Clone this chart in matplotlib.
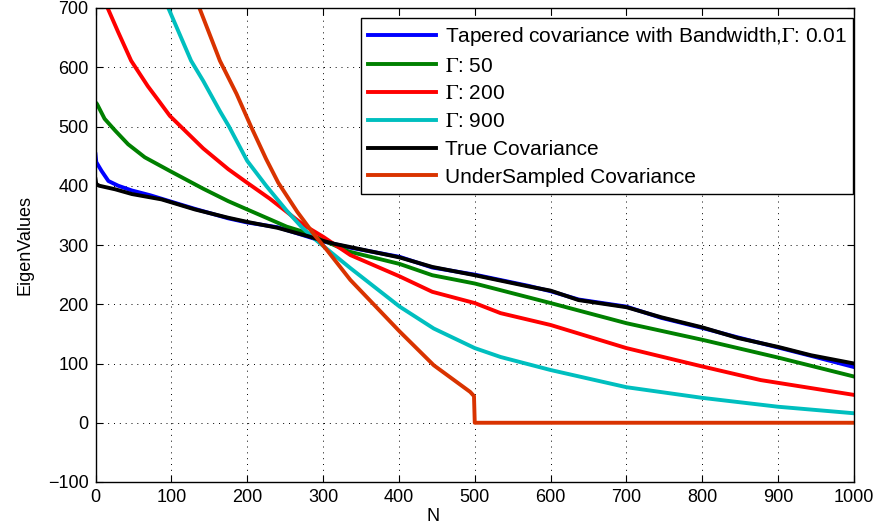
import matplotlib
matplotlib.use("Agg")
import matplotlib.pyplot as plt

plt.rcParams['font.family'] = ['Liberation Sans', 'DejaVu Sans']
plt.rcParams['mathtext.fontset'] = 'stix'

# eigenvalue curves (index N, value)
n_true = [0, 1, 5, 26, 48, 87, 100, 131, 175, 200, 240, 280, 300, 315, 334, 401, 444, 500, 571, 600, 637, 700, 746, 800, 847, 900, 943, 1000]
v_true = [411, 403, 400, 394, 386, 377, 372, 360, 346, 339, 329, 315, 307, 302, 297, 279, 263, 249, 230, 223, 207, 195, 178, 161, 143, 128, 114, 100]

n_tap = [0, 1, 8, 17, 30, 48, 72, 100, 131, 175, 200, 240, 280, 300, 334, 401, 444, 500, 571, 600, 637, 700, 746, 800, 847, 900, 943, 1000]
v_tap = [453, 440, 425, 408, 400, 392, 384, 373, 361, 345, 338, 330, 314, 306, 296, 280, 262, 250, 231, 222, 208, 196, 177, 160, 144, 127, 113, 94]

n_g50 = [0, 2, 12, 26, 43, 65, 98, 142, 175, 200, 252, 280, 300, 334, 401, 444, 500, 600, 700, 800, 900, 1000]
v_g50 = [541, 538, 513, 493, 470, 448, 425, 395, 374, 360, 331, 320, 308, 289, 268, 249, 235, 202, 168, 140, 110, 78]

n_g200 = [10, 16, 30, 47, 69, 83, 98, 142, 175, 200, 230, 274, 300, 336, 401, 444, 500, 534, 600, 700, 800, 877, 1000]
v_g200 = [725, 700, 659, 611, 568, 544, 518, 463, 428, 405, 378, 334, 314, 283, 247, 221, 202, 185, 165, 126, 95, 72, 47]

n_g900 = [90, 96, 126, 142, 164, 176, 200, 225, 252, 272, 291, 336, 401, 446, 500, 534, 600, 700, 800, 900, 1000]
v_g900 = [725, 700, 611, 577, 526, 500, 442, 400, 358, 330, 308, 261, 196, 159, 126, 111, 89, 60, 42, 27, 16]

n_under = [130, 137, 164, 186, 205, 225, 241, 266, 288, 306, 336, 401, 446, 494, 499, 500, 1000]
v_under = [720, 700, 611, 555, 500, 445, 405, 356, 318, 290, 241, 154, 97, 52, 45, 0, 0]

labels = ['Tapered covariance with Bandwidth,$\\Gamma$: 0.01', '$\\Gamma$: 50', '$\\Gamma$: 200',
          '$\\Gamma$: 900', 'True Covariance', 'UnderSampled Covariance']

fig = plt.figure(figsize=(8.82, 5.29), dpi=100)
ax = fig.add_axes([95.5 / 882, 1 - 482 / 529, (854 - 95.5) / 882, (482 - 8) / 529])

lw = 2.8
ax.plot(n_tap, v_tap, color=(0, 0, 1), lw=lw, label=labels[0])
ax.plot(n_g50, v_g50, color=(0, 0.5, 0), lw=lw, label=labels[1])
ax.plot(n_g200, v_g200, color=(1, 0, 0), lw=lw, label=labels[2])
ax.plot(n_g900, v_g900, color=(0, 0.75, 0.75), lw=lw, label=labels[3])
ax.plot(n_true, v_true, color='black', lw=lw, label=labels[4])
ax.plot(n_under, v_under, color=(0.85, 0.2, 0.0), lw=lw, label=labels[5])

ax.set_xlim(0, 1000)
ax.set_ylim(-100, 700)
ax.set_xticks(range(0, 1001, 100))
ax.set_yticks(range(-100, 701, 100))
ax.grid(True, color='black', linestyle=(0, (1, 5)), lw=0.7)
ax.tick_params(direction='in', top=True, right=True, length=5, width=0.8, labelsize=13, pad=5)
for s in ax.spines.values():
    s.set_linewidth(1.0)

ax.set_ylabel('EigenValues', fontsize=13, labelpad=10)
ax.set_xlabel('N', fontsize=13)
ax.xaxis.set_label_coords(0.445, -0.055)

leg = ax.legend(loc='upper right', bbox_to_anchor=(1 - 0.5 / 758, 1 - 10 / 474), fontsize=15,
                handlelength=3.3, handletextpad=0.4, borderaxespad=0, labelspacing=0.42,
                fancybox=False, framealpha=1, edgecolor='black', borderpad=0.33)
leg.get_frame().set_linewidth(1.0)

fig.savefig('out.png', dpi=100)
